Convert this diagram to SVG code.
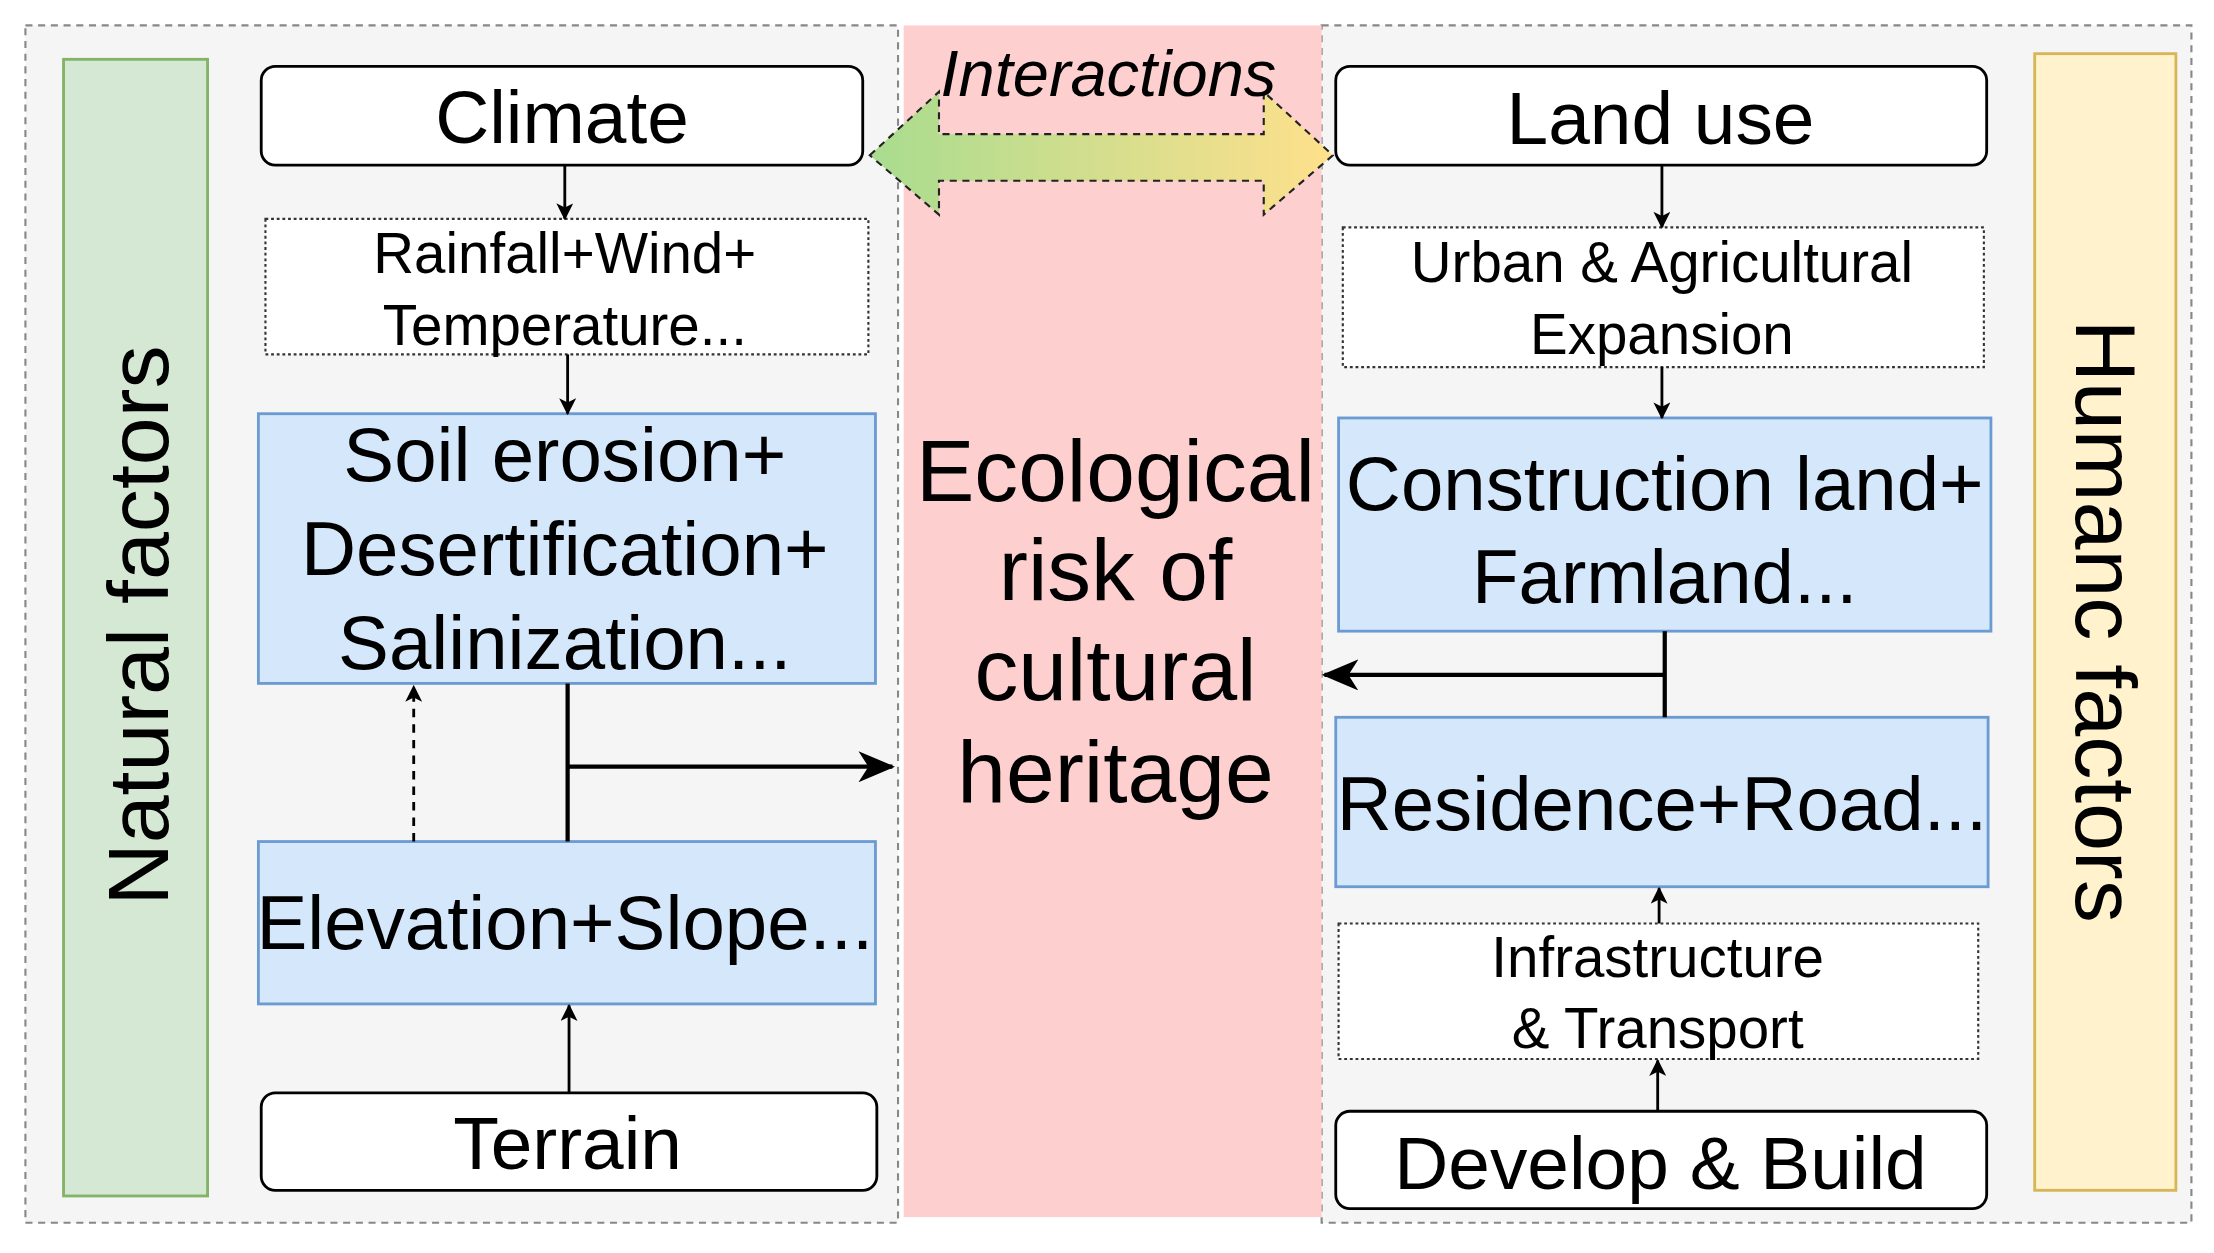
<svg xmlns="http://www.w3.org/2000/svg" width="2214" height="1253" viewBox="0 0 2214 1253">
<style>
.t{font-family:"Liberation Sans",Arial,sans-serif;fill:#000;text-anchor:middle}
.w{fill:#fff;stroke:#000;stroke-width:2}
.d{fill:#fff;stroke:#333;stroke-width:1.5;stroke-dasharray:2 2}
.b{fill:#d4e7fb;stroke:#6c9bd2;stroke-width:2}
.l{stroke:#000;stroke-width:2;fill:none}
.L{stroke:#000;stroke-width:3;fill:none}
</style>
<defs>
<marker id="a" markerWidth="12" markerHeight="12" refX="11" refY="6" orient="auto" markerUnits="userSpaceOnUse"><path d="M0,0 L12,6 L0,12 L3,6 Z" fill="#000"/></marker>
<marker id="A" markerWidth="26" markerHeight="22" refX="24" refY="11" orient="auto" markerUnits="userSpaceOnUse"><path d="M0,0 L26,11 L0,22 L7,11 Z" fill="#000"/></marker>
<linearGradient id="g" x1="0" x2="1" y1="0" y2="0"><stop offset="0" stop-color="#a9dc8f"/><stop offset="1" stop-color="#ffe08c"/></linearGradient>
</defs>
<rect width="2214" height="1253" fill="#fff"/>
<g transform="scale(1.412,1.412)">
<g id="panels">
<rect x="18" y="18" width="618" height="848" fill="#f5f5f5" stroke="#888" stroke-width="1.5" stroke-dasharray="5 4"/>
<rect x="936" y="18" width="616" height="848" fill="#f5f5f5" stroke="#888" stroke-width="1.5" stroke-dasharray="5 4"/>
<rect x="640" y="18" width="296" height="844" fill="#fdcfcf"/>
</g>
<g id="natural"><rect x="45" y="42" width="102" height="805" fill="#d5e8d4" stroke="#82b366" stroke-width="2"/>
<text class="t" transform="translate(119,443) rotate(-90)" font-size="61">Natural factors</text></g>
<g id="humanc"><rect x="1441" y="38" width="100" height="805" fill="#fff2cc" stroke="#d6b656" stroke-width="2"/>
<text class="t" transform="translate(1470,440) rotate(90)" font-size="61">Humanc factors</text></g>
<g id="center"><text class="t" font-size="62"><tspan x="790" y="355">Ecological</tspan><tspan x="790" y="425">risk of</tspan><tspan x="790" y="496">cultural</tspan><tspan x="790" y="568">heritage</tspan></text></g>
<g id="interactions"><path d="M616,110 L665,65 L665,95 L895,95 L895,65 L944,110 L895,152 L895,128 L665,128 L665,152 Z" fill="url(#g)" stroke="#222" stroke-width="1.5" stroke-dasharray="5 4"/>
<text class="t" x="785" y="68" font-size="46" font-style="italic">Interactions</text></g>
<g id="climate"><rect class="w" x="185" y="47" width="426" height="70" rx="10"/><text class="t" x="398" y="101" font-size="53" fill="#333">Climate</text></g>
<g id="rainfall"><rect class="d" x="188" y="155" width="427" height="96"/><text class="t" font-size="40"><tspan x="400" y="193">Rainfall+Wind+</tspan><tspan x="400" y="244">Temperature...</tspan></text></g>
<g id="soil"><rect class="b" x="183" y="293" width="437" height="191"/><text class="t" font-size="54"><tspan x="400" y="341">Soil erosion+</tspan><tspan x="400" y="407">Desertification+</tspan><tspan x="400" y="474">Salinization...</tspan></text></g>
<g id="elevation"><rect class="b" x="183" y="596" width="437" height="115"/><text class="t" x="400" y="672" font-size="54">Elevation+Slope...</text></g>
<g id="terrain"><rect class="w" x="185" y="774" width="436" height="69" rx="10"/><text class="t" x="402" y="828" font-size="53">Terrain</text></g>
<g id="landuse"><rect class="w" x="946" y="47" width="461" height="70" rx="10"/><text class="t" x="1176" y="102" font-size="53">Land use</text></g>
<g id="urban"><rect class="d" x="951" y="161" width="454" height="99"/><text class="t" font-size="40"><tspan x="1177" y="200">Urban &amp; Agricultural</tspan><tspan x="1177" y="251">Expansion</tspan></text></g>
<g id="construction"><rect class="b" x="948" y="296" width="462" height="151"/><text class="t" font-size="54"><tspan x="1179" y="361">Construction land+</tspan><tspan x="1179" y="427">Farmland...</tspan></text></g>
<g id="residence"><rect class="b" x="946" y="508" width="462" height="120"/><text class="t" x="1177" y="588" font-size="54">Residence+Road...</text></g>
<g id="infra"><rect class="d" x="948" y="654" width="453" height="96"/><text class="t" font-size="40"><tspan x="1174" y="692">Infrastructure</tspan><tspan x="1174" y="742">&amp; Transport</tspan></text></g>
<g id="develop"><rect class="w" x="946" y="787" width="461" height="69" rx="10"/><text class="t" x="1176" y="842" font-size="53">Develop &amp; Build</text></g>
<g id="connectors">
<line class="l" x1="400" y1="117" x2="400" y2="155" marker-end="url(#a)"/>
<line class="l" x1="402" y1="251" x2="402" y2="293" marker-end="url(#a)"/>
<line class="L" x1="402" y1="484" x2="402" y2="596"/>
<line class="L" x1="402" y1="543" x2="632" y2="543" marker-end="url(#A)"/>
<line class="l" x1="293" y1="596" x2="293" y2="486" stroke-dasharray="6 5" marker-end="url(#a)"/>
<line class="l" x1="403" y1="774" x2="403" y2="712" marker-end="url(#a)"/>
<line class="l" x1="1177" y1="117" x2="1177" y2="161" marker-end="url(#a)"/>
<line class="l" x1="1177" y1="260" x2="1177" y2="296" marker-end="url(#a)"/>
<line class="L" x1="1179" y1="447" x2="1179" y2="508"/>
<line class="L" x1="1179" y1="478" x2="938" y2="478" marker-end="url(#A)"/>
<line class="l" x1="1175" y1="654" x2="1175" y2="629" marker-end="url(#a)"/>
<line class="l" x1="1174" y1="787" x2="1174" y2="751" marker-end="url(#a)"/>
</g>
</g>
</svg>
